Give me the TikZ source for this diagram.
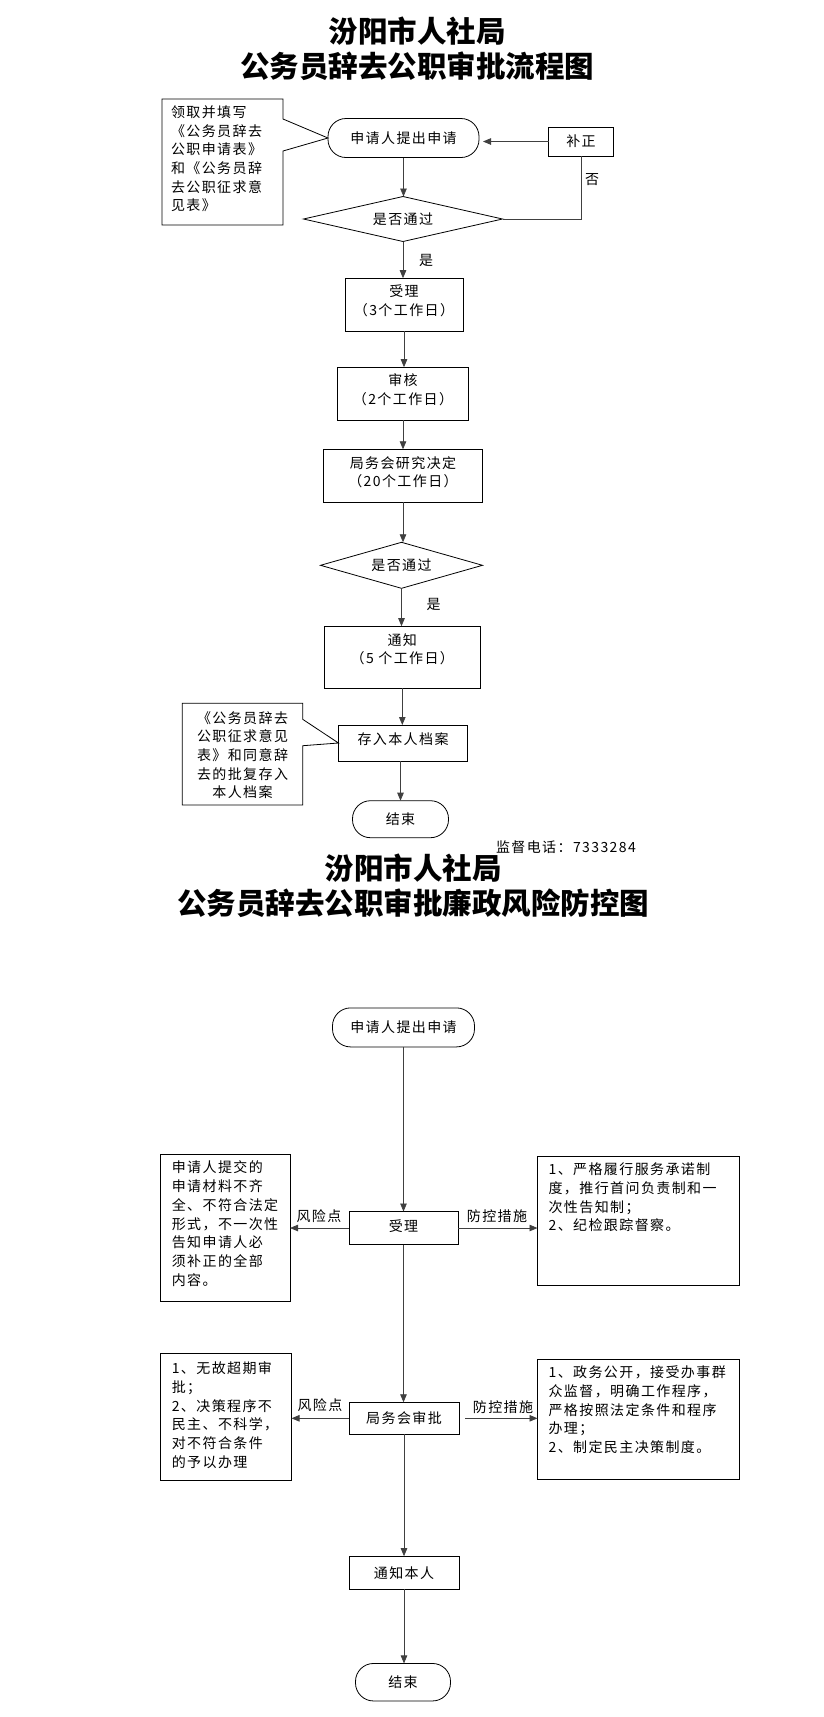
\documentclass[tikz,border=0pt]{standalone}
\usepackage{fontspec}
\newfontfamily\cjk[LetterSpace=10]{Noto Sans CJK SC}
\newfontfamily\cjktitle{Noto Sans CJK SC}
\usetikzlibrary{arrows.meta,shapes.geometric,calc}
\begin{document}
\begin{tikzpicture}[x=1pt,y=-1pt,
  every node/.style={inner sep=0pt,outer sep=0pt},
  txt/.style={font=\cjk\fontsize{14}{18.7}\selectfont},
  box/.style={draw=black,line width=0.8pt,txt,align=center},
  stad/.style={box,rounded corners=18pt},
  dia/.style={draw=black,line width=0.8pt,shape=diamond,aspect=4,txt},
  arr/.style={line width=0.8pt,draw=black!75,-{Triangle[length=8pt,width=6.5pt]}},
  ln/.style={line width=0.8pt,draw=black!75},
  outl/.style={line width=0.8pt,draw=black},
  ttl/.style={font=\cjktitle\bfseries\fontsize{29.5}{35}\selectfont},
  up/.style={text depth=#1}]
\useasboundingbox (0,0) rectangle (823,1717);
\fill[white] (0,0) rectangle (823,1717);

% ---------- section 1 ----------
\node[ttl] (t1) at (417,31) {汾阳市人社局};
\node[ttl] (t2) at (417,66) {公务员辞去公职审批流程图};

\node[stad,minimum width=151pt,minimum height=39pt] (a1) at (403.5,138) {申请人提出申请};
\node[box,minimum width=65pt,minimum height=29pt] (bz) at (581,141.5) {补正};
\node[dia,minimum width=199pt,minimum height=45pt] (d1) at (403,219) {是否通过};
\node[box,up=8.7pt,minimum width=118pt,minimum height=53pt] (r1) at (404,304.7) {受理\\（3个工作日）};
\node[box,up=8.7pt,minimum width=131pt,minimum height=53pt] (r2) at (403,393.7) {审核\\（2个工作日）};
\node[box,up=8.3pt,minimum width=159pt,minimum height=53pt] (r3) at (403,475.8) {局务会研究决定\\（20个工作日）};
\node[dia,minimum width=162pt,minimum height=46pt] (d2) at (401.5,565.3) {是否通过};
\node[box,up=17pt,minimum width=156pt,minimum height=62pt] (r4) at (402.3,657.2) {通知\\（5 个工作日）};
\node[box,up=8.7pt,minimum width=129pt,minimum height=36pt] (r5) at (403,743) {存入本人档案};
\node[stad,minimum width=96pt,minimum height=37pt] (e1) at (400.5,819.2) {结束};

% callout 1
\draw[outl] (162,99) -- (283,99) -- (283,119) -- (a1.west) -- (283,151) -- (283,225) -- (162,225) -- cycle;
\node[txt,align=left,anchor=north west] (c1) at (171,105.5) {领取并填写\\《公务员辞去\\公职申请表》\\和《公务员辞\\去公职征求意\\见表》};
% callout 2
\draw[outl] (182.3,703.3) -- (302.7,703.3) -- (302.7,719.3) -- (r5.west) -- (302.7,745.7) -- (302.7,805) -- (182.3,805) -- cycle;
\node[txt,align=center,anchor=north] (c2) at (242.5,711.3) {《公务员辞去\\公职征求意见\\表》和同意辞\\去的批复存入\\本人档案};

\draw[arr] (a1.south) -- (a1.south |- d1.north);
\draw[arr] (bz.west) -- ([xshift=4pt]a1.east |- bz.west);
\draw[ln] (bz.south) |- (d1.east);
\node[txt] (no1) at (592,180) {否};
\draw[arr] (d1.south) -- (d1.south |- r1.north);
\node[txt] (yes1) at (426,260.7) {是};
\draw[arr] (r1.south) -- (r1.south |- r2.north);
\draw[arr] (r2.south) -- (r2.south |- r3.north);
\draw[arr] (r3.south) -- (r3.south |- d2.north);
\draw[arr] (d2.south) -- (d2.south |- r4.north);
\node[txt] (yes2) at (433.5,604) {是};
\draw[arr] (r4.south) -- (r4.south |- r5.north);
\draw[arr] (e1.north |- r5.south) -- (e1.north);

\node[txt,anchor=west] (tel) at (496,846.7) {监督电话：7333284};

% ---------- section 2 ----------
\node[ttl] (t3) at (413,868) {汾阳市人社局};
\node[ttl] (t4) at (413,903) {公务员辞去公职审批廉政风险防控图};

\node[stad,minimum width=142pt,minimum height=39pt] (b1) at (403.5,1027.4) {申请人提出申请};
\node[box,up=4.5pt,minimum width=109pt,minimum height=33pt] (s1) at (403.5,1228) {受理};
\node[box,minimum width=110pt,minimum height=32pt] (s2) at (404,1418.3) {局务会审批};
\node[box,minimum width=110pt,minimum height=33pt] (s3) at (404,1572.7) {通知本人};
\node[stad,minimum width=95pt,minimum height=37.5pt] (e2) at (403,1682.2) {结束};

\node[box,minimum width=130pt,minimum height=147pt] (L1) at (225,1227.7) {};
\node[txt,align=left,anchor=north west] (L1t) at (171.8,1161) {申请人提交的\\申请材料不齐\\全、不符合法定\\形式，不一次性\\告知申请人必\\须补正的全部\\内容。};
\node[box,minimum width=202pt,minimum height=129pt] (R1) at (638.5,1220.8) {};
\node[txt,align=left,anchor=north west] (R1t) at (548.6,1163) {1、严格履行服务承诺制\\度，推行首问负责制和一\\次性告知制；\\2、纪检跟踪督察。};
\node[box,minimum width=131pt,minimum height=127pt] (L2) at (226,1417.3) {};
\node[txt,align=left,anchor=north west] (L2t) at (171.8,1362) {1、无故超期审\\批；\\2、决策程序不\\民主、不科学，\\对不符合条件\\的予以办理};
\node[box,minimum width=202pt,minimum height=120pt] (R2) at (638.5,1419.7) {};
\node[txt,align=left,anchor=north west] (R2t) at (548.6,1366) {1、政务公开，接受办事群\\众监督，明确工作程序，\\严格按照法定条件和程序\\办理；\\2、制定民主决策制度。};

\draw[arr] (b1.south) -- (b1.south |- s1.north);
\draw[arr] (s1.west) -- (L1.east |- s1.west);
\node[txt] (rk1) at (319,1216.6) {风险点};
\draw[arr] (s1.east) -- (R1.west |- s1.east);
\node[txt] (fk1) at (497,1216.6) {防控措施};
\draw[arr] (s1.south) -- (s1.south |- s2.north);
\draw[arr] (s2.west) -- (L2.east |- s2.west);
\node[txt] (rk2) at (320,1405.4) {风险点};
\draw[arr] ([xshift=6pt]s2.east) -- (R2.west |- s2.east);
\node[txt] (fk2) at (503,1407.4) {防控措施};
\draw[arr] (s2.south) -- (s2.south |- s3.north);
\draw[arr] (s3.south) -- (s3.south |- e2.north);
\end{tikzpicture}
\end{document}
